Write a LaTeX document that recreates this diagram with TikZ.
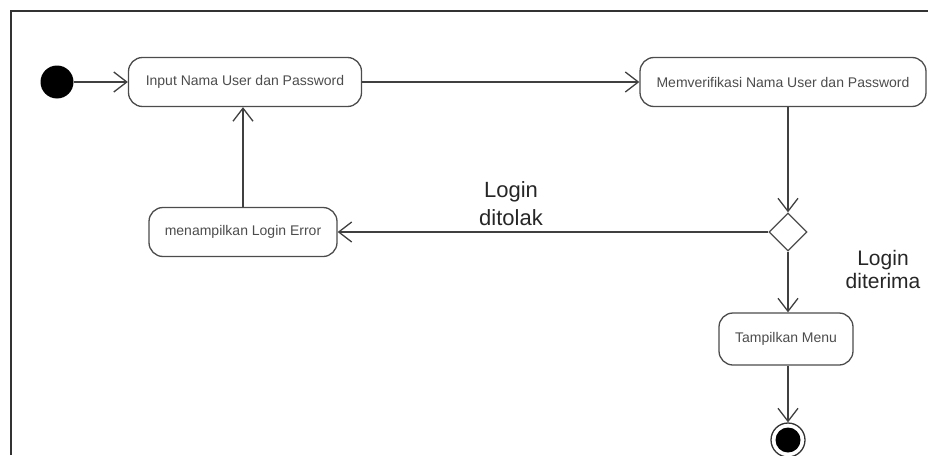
\documentclass[tikz,border=0pt]{standalone}
\usepackage{fontspec}
\setmainfont{Liberation Sans}
\usetikzlibrary{arrows.meta,shapes.geometric}

\begin{document}
\begin{tikzpicture}[x=1pt,y=-1pt]
\tikzstyle{every node}+=[font=\fontsize{14}{16}\selectfont, text=black!70]
\tikzstyle{activity}=[draw=black!70, line width=1.3pt, rounded corners=14pt, inner sep=0pt, minimum height=49pt]
\tikzstyle{flow}=[draw=black!75, line width=1.3pt, -{Straight Barb[length=13pt,width=20pt,line width=1.3pt]}]
\tikzstyle{guard}=[font=\fontsize{22}{28}\selectfont, text=black!85, align=center]

\useasboundingbox (0,0) rectangle (928,455);
% frame
\draw[line width=2pt, black!80] (11,455) -- (11,11) -- (928,11);

\node (start) [circle, fill=black, minimum size=33pt, inner sep=0pt] at (57,82) {};
\node (input) [activity, minimum width=233pt] at (245,82) {Input Nama User dan Password};
\node (verify) [activity, minimum width=286pt] at (783,82) {Memverifikasi Nama User dan Password};
\node (decision) [diamond, draw=black!70, line width=1.3pt, minimum width=38pt, minimum height=38pt, inner sep=0pt] at (788,232) {};
\node (error) [activity, minimum width=188pt] at (243,232) {menampilkan Login Error};
\node (menu) [activity, minimum width=134pt, minimum height=52pt] at (786,339) {Tampilkan Menu};
\node (final) [circle, draw=black!80, line width=1.3pt, minimum size=34pt, inner sep=0pt] at (788,440) {};
\node (finaldot) [circle, fill=black, minimum size=25pt, inner sep=0pt] at (final) {};

\node (ditolak) [guard] at (511,204) {Login\\ditolak};
\node (diterima) [guard, font=\fontsize{21}{23}\selectfont] at (883,269) {Login\\diterima};

\path
  (start) edge[flow] (input)
  (input) edge[flow] (verify)
  (decision |- verify.south) edge[flow] (decision.north)
  (decision) edge[flow] (error)
  (error.north) edge[flow] (error.north |- input.south)
  (decision.south) edge[flow] (decision.south |- menu.north)
  (menu.south -| final) edge[flow] (final)
;
\end{tikzpicture}
\end{document}
